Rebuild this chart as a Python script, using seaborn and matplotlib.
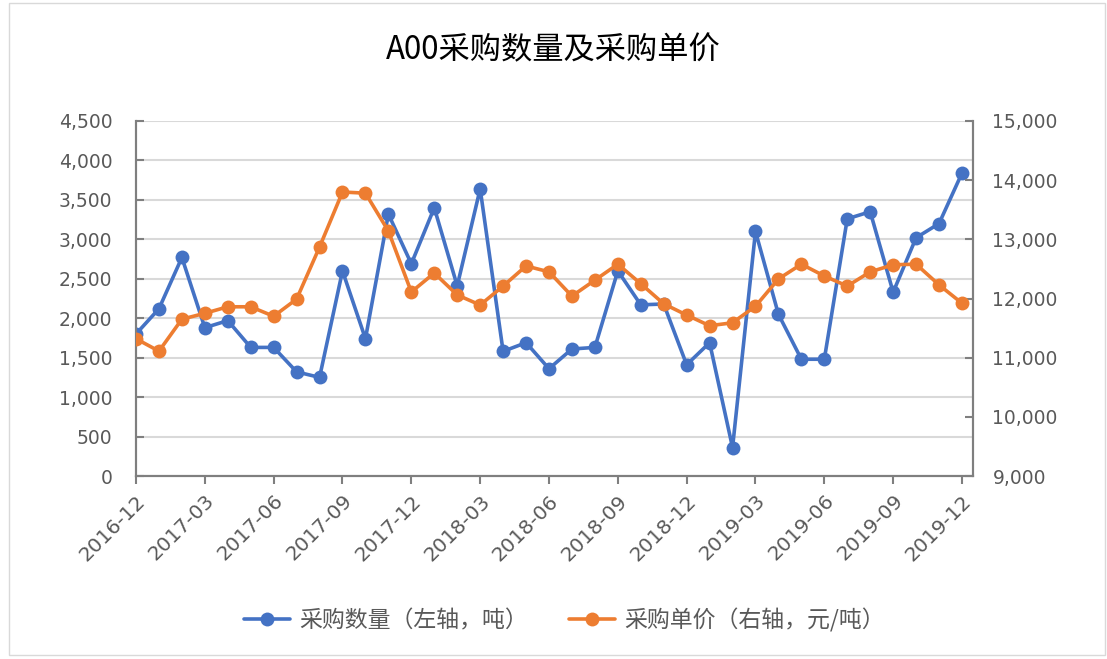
import pandas as pd
import matplotlib
matplotlib.use("Agg")
import matplotlib.pyplot as plt
import seaborn as sns

# 数据
months = pd.date_range("2016-12-01", "2019-12-01", freq="MS").strftime("%Y-%m").tolist()
qty = [1800, 2120, 2770, 1880, 1970, 1630, 1630, 1320, 1250, 2600,
       1740, 3320, 2690, 3400, 2410, 3640, 1580, 1690, 1360, 1610,
       1630, 2600, 2170, 2180, 1410, 1690, 360, 3100, 2050, 1480,
       1480, 3260, 3350, 2330, 3020, 3200, 3840]
price = [11320, 11110, 11650, 11750, 11860, 11860, 11700, 11990, 12870, 13800,
         13780, 13140, 12110, 12430, 12060, 11890, 12210, 12550, 12450, 12040,
         12310, 12580, 12250, 11910, 11720, 11540, 11590, 11870, 12330, 12580,
         12380, 12210, 12450, 12570, 12580, 12230, 11920]

df = pd.DataFrame({"idx": range(len(months)), "month": months, "qty": qty, "price": price})

sns.set_style("white")
plt.rcParams["font.family"] = ["Noto Sans CJK SC", "DejaVu Sans"]

blue = "#4472C4"
orange = "#ED7D31"
gray_txt = "#595959"
spine_c = "#7F7F7F"
num_font = ["DejaVu Sans"]

fig = plt.figure(figsize=(11.07, 6.59), dpi=100)
ax = fig.add_axes([136 / 1107, 1 - 476 / 659, (973 - 136) / 1107, (476 - 121) / 659])
ax2 = ax.twinx()

sns.lineplot(data=df, x="idx", y="qty", ax=ax, color=blue, marker="o", markersize=10,
             linewidth=2.6, markeredgewidth=0, label="采购数量（左轴，吨）", legend=False, zorder=3)
sns.lineplot(data=df, x="idx", y="price", ax=ax2, color=orange, marker="o", markersize=10,
             linewidth=2.6, markeredgewidth=0, label="采购单价（右轴，元/吨）", legend=False, zorder=3)

ax.set_xlim(0, 36.48)
ax.set_ylim(0, 4500)
ax2.set_ylim(9000, 15000)
ax.set_yticks(range(0, 4501, 500))
ax2.set_yticks(range(9000, 15001, 1000))
ax.set_yticklabels([f"{v:,}" for v in range(0, 4501, 500)], family=num_font)
ax2.set_yticklabels([f"{v:,}" for v in range(9000, 15001, 1000)], family=num_font)
ax.set_xticks(df["idx"][::3])
ax.set_xticklabels(df["month"][::3], rotation=45, ha="right", rotation_mode="anchor",
                   family=num_font)

ax.grid(axis="y", color="#D9D9D9", linewidth=1.5)
ax.set_axisbelow(True)
ax.set_xlabel("")
ax.set_ylabel("")
ax2.set_ylabel("")

for a in (ax, ax2):
    for s in a.spines.values():
        s.set_color(spine_c)
        s.set_linewidth(1.5)
    a.spines["top"].set_visible(False)

ax.tick_params(axis="y", direction="in", length=6, width=1.5, color=spine_c,
               labelsize=13.5, labelcolor=gray_txt, pad=17)
ax2.tick_params(axis="y", direction="in", length=6, width=1.5, color=spine_c,
                labelsize=13.5, labelcolor=gray_txt, pad=14)
ax.tick_params(axis="x", direction="out", length=6, width=1.5, color=spine_c,
               labelsize=14.5, labelcolor=gray_txt, pad=5, bottom=True)

fig.text(0.5, 1 - 50 / 659, "A00采购数量及采购单价", ha="center", va="center",
         fontsize=22.5, color="#000000")

h1, l1 = ax.get_legend_handles_labels()
h2, l2 = ax2.get_legend_handles_labels()
fig.legend(h1 + h2, l1 + l2, loc="center", bbox_to_anchor=(0.51, 1 - 620 / 659),
           ncol=2, frameon=False, fontsize=16.5, labelcolor=gray_txt,
           handlelength=2, columnspacing=1.8, handletextpad=0.4)

# 外框
fig.patches.append(plt.Rectangle((0.008, 0.006), 0.99, 0.99, transform=fig.transFigure,
                                 fill=False, edgecolor="#D9D9D9", linewidth=1))

fig.savefig("out.png", dpi=100)
